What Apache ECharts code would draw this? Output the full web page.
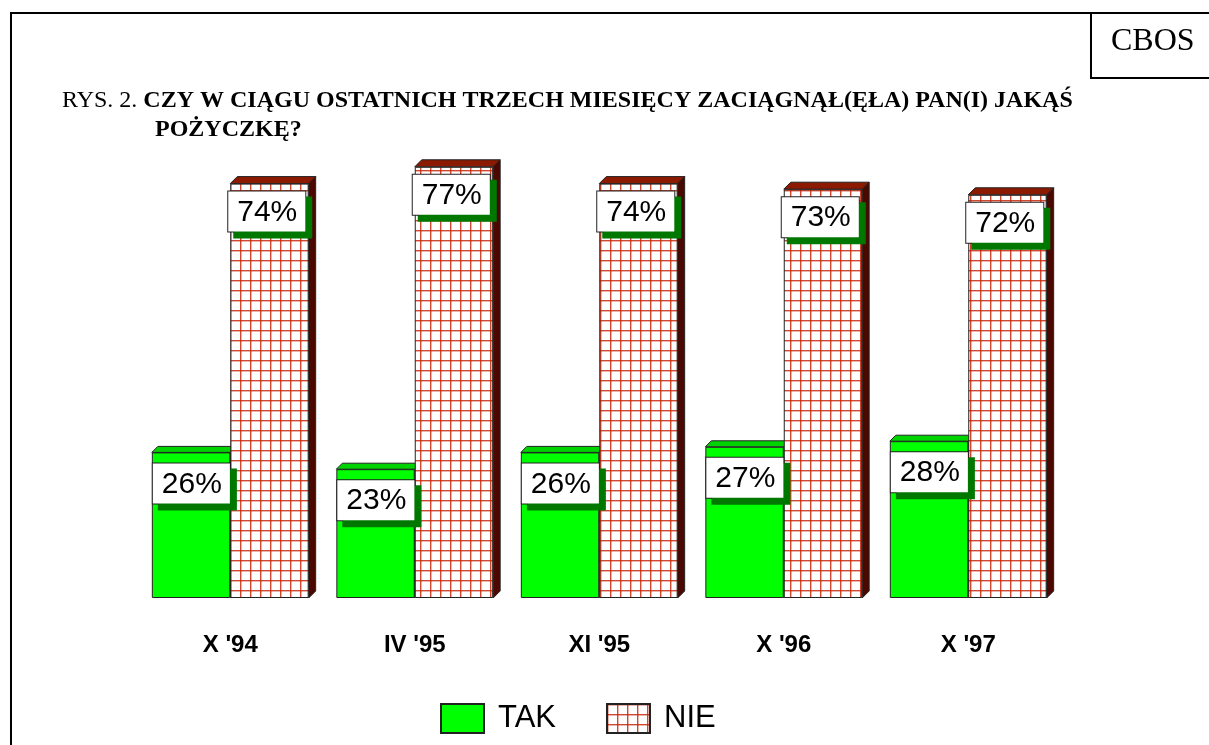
<!DOCTYPE html>
<html>
<head>
<meta charset="utf-8">
<script src="https://cdn.jsdelivr.net/npm/echarts@6/dist/echarts.min.js"></script>
<style>
  html, body { margin: 0; padding: 0; background: #fff; }
  #chart { width: 1209px; height: 745px; }
</style>
</head>
<body>
<div id="chart"></div>
<script>
var periods = ["X '94", "IV '95", "XI '95", "X '96", "X '97"];
var tak = [26, 23, 26, 27, 28];
var nie = [74, 77, 74, 73, 72];

// kratka na słupkach NIE
var cell = document.createElement('canvas');
cell.width = 10;
cell.height = 10;
var cx = cell.getContext('2d');
cx.fillStyle = '#fff';
cx.fillRect(0, 0, 10, 10);
cx.fillStyle = 'rgba(200, 40, 10, 0.85)';
cx.fillRect(0, 0, 1.4, 10);
cx.fillRect(0, 0, 10, 1.4);
var grid = { image: cell, repeat: 'repeat' };

// górna i boczna ściana słupka (efekt 3D)
function extrude(side, depth, topColor, sideColor) {
  return function (params, api) {
    var c = api.coord([api.value(0), api.value(1)]);
    var base = api.coord([api.value(0), 0])[1];
    var bw = api.size([1, 0])[0] * 0.85 / 2;
    var x0 = side === 0 ? c[0] - bw : c[0];
    var x1 = x0 + bw;
    var y = c[1];
    return {
      type: 'group',
      children: [
        { type: 'polygon', shape: { points: [[x0, y], [x0 + depth, y - depth], [x1 + depth, y - depth], [x1, y]] },
          style: { fill: topColor, stroke: '#222', lineWidth: 1 } },
        { type: 'polygon', shape: { points: [[x1, y], [x1 + depth, y - depth], [x1 + depth, base - depth], [x1, base]] },
          style: { fill: sideColor, stroke: '#222', lineWidth: 1 } }
      ]
    };
  };
}

function valueLabel(pos) {
  return {
    show: true,
    position: pos,
    formatter: '{c}%',
    fontFamily: 'Arial, Liberation Sans',
    fontSize: 30,
    color: '#000',
    lineHeight: 32,
    backgroundColor: '#fff',
    borderColor: '#222',
    borderWidth: 1,
    padding: [5, 8, 3, 9],
    shadowColor: '#007800',
    shadowBlur: 0,
    shadowOffsetX: 6,
    shadowOffsetY: 6
  };
}

var myChart = echarts.init(document.getElementById('chart'));
myChart.setOption({
  animation: false,
  title: [
    {
      left: 57, top: 84,
      text: '{n|RYS. 2. }{b|CZY W CIĄGU OSTATNICH TRZECH MIESIĘCY ZACIĄGNĄŁ(ĘŁA) PAN(I) JAKĄŚ}',
      textStyle: {
        rich: {
          n: { fontFamily: 'Liberation Serif', fontSize: 24, fontWeight: 'normal', color: '#000' },
          b: { fontFamily: 'Liberation Serif', fontSize: 24, fontWeight: 'bold', color: '#000' }
        }
      }
    },
    {
      left: 150, top: 113,
      text: 'POŻYCZKĘ?',
      textStyle: { fontFamily: 'Liberation Serif', fontSize: 24, fontWeight: 'bold', color: '#000' }
    }
  ],
  graphic: [
    { type: 'polyline', shape: { points: [[11, 745], [11, 13], [1209, 13]] }, style: { stroke: '#000', lineWidth: 2, fill: null } },
    { type: 'rect', shape: { x: 1091, y: 13, width: 130, height: 65 }, style: { stroke: '#000', lineWidth: 2, fill: '#fff' } },
    { type: 'text', left: 1111, top: 26, style: { text: 'CBOS', font: '32px "Liberation Serif"', fill: '#000' } }
  ],
  legend: {
    left: 435, top: 698,
    itemWidth: 43, itemHeight: 29, itemGap: 50,
    icon: 'rect',
    textStyle: { fontFamily: 'Arial, Liberation Sans', fontSize: 31, color: '#000', padding: [0, 0, 0, 9] },
    data: ['TAK', 'NIE']
  },
  grid: { left: 138, right: 148.5, top: 38, bottom: 147 },
  xAxis: {
    type: 'category',
    data: periods,
    axisLine: { show: false },
    axisTick: { show: false },
    axisLabel: { margin: 35, fontFamily: 'Arial, Liberation Sans', fontSize: 24, fontWeight: 'bold', color: '#000' }
  },
  yAxis: { type: 'value', min: 0, max: 100, show: false },
  series: [
    {
      type: 'custom', name: 'tak3d', z: 1, silent: true,
      renderItem: extrude(0, 6, '#00d400', '#008000'),
      data: tak.map(function (v, i) { return [i, v]; })
    },
    {
      type: 'custom', name: 'nie3d', z: 1, silent: true,
      renderItem: extrude(1, 7, '#8c1a00', '#4a0800'),
      data: nie.map(function (v, i) { return [i, v]; })
    },
    {
      name: 'TAK', type: 'bar', z: 2, silent: true,
      barGap: 0, barCategoryGap: '15%',
      itemStyle: { color: '#00ff00', borderColor: '#222', borderWidth: 1 },
      label: valueLabel([1, 11]),
      data: tak
    },
    {
      name: 'NIE', type: 'bar', z: 2, silent: true,
      barGap: 0, barCategoryGap: '15%',
      itemStyle: { color: grid, borderColor: '#222', borderWidth: 1 },
      label: valueLabel([-2, 8]),
      data: nie
    }
  ]
});
</script>
</body>
</html>
